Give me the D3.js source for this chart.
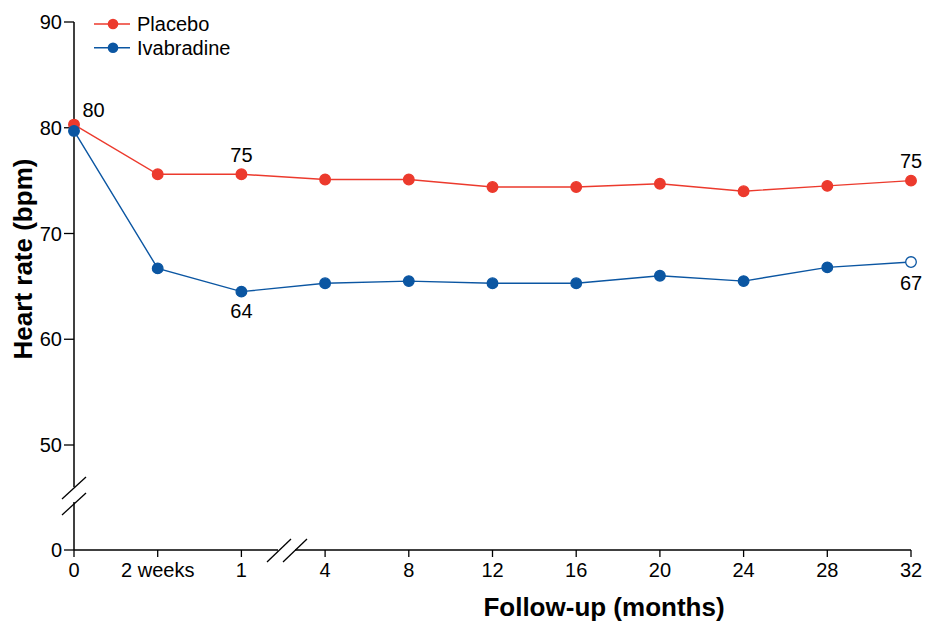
<!DOCTYPE html>
<html>
<head>
<meta charset="utf-8">
<script src="https://cdn.jsdelivr.net/npm/d3@7"></script>
<style>
  body { margin: 0; background: #fff; }
  text { font-family: "Liberation Sans", Arial, sans-serif; fill: #000; }
</style>
</head>
<body>
<script>
var w = 925; // Width of the chart
var h = 622; // Height of the chart

// Data
var categories = ["0", "2 weeks", "1", "4", "8", "12", "16", "20", "24", "28", "32"];
var placebo = [80.3, 75.6, 75.6, 75.1, 75.1, 74.4, 74.4, 74.7, 74.0, 74.5, 75.0];
var ivabradine = [79.7, 66.7, 64.5, 65.3, 65.5, 65.3, 65.3, 66.0, 65.5, 66.8, 67.3];
var yTicks = [0, 50, 60, 70, 80, 90];
// value labels: [series, index, text]
var valueLabels = [
    ["placebo", 0, "80"], ["placebo", 2, "75"], ["placebo", 10, "75"],
    ["ivabradine", 2, "64"], ["ivabradine", 10, "67"]
];

var red = "#ec3a2d";
var blue = "#0b56a2";

var svg = d3.select("body").append("svg")
    .attr("width", w)
    .attr("height", h);

// Scales (y is piecewise: 0 sits just below 50, with a break in between)
var xScale = d3.scalePoint()
    .domain(categories)
    .range([74, 911]);

var yScale = d3.scaleLinear()
    .domain([0, 50, 90])
    .range([550, 445, 22]);

// Y axis line, split for the break
var ax = 74;
svg.append("line").attr("x1", ax).attr("x2", ax).attr("y1", yScale(90)).attr("y2", 487)
    .attr("stroke", "#000").attr("stroke-width", 1.5);
svg.append("line").attr("x1", ax).attr("x2", ax).attr("y1", 502).attr("y2", yScale(0))
    .attr("stroke", "#000").attr("stroke-width", 1.5);
[0, 16].forEach(function(o) {
    svg.append("line")
        .attr("x1", 62).attr("y1", 499 + o).attr("x2", 86).attr("y2", 477 + o)
        .attr("stroke", "#000").attr("stroke-width", 1.3);
});

// Y ticks
var yt = svg.append("g").selectAll("g").data(yTicks).join("g")
    .attr("transform", function(d) { return "translate(0," + yScale(d) + ")"; });
yt.append("line").attr("x1", ax - 10).attr("x2", ax).attr("stroke", "#000").attr("stroke-width", 1.3);
yt.append("text")
    .attr("x", ax - 12).attr("dy", "0.36em")
    .attr("text-anchor", "end")
    .attr("font-size", 20)
    .text(function(d) { return d; });

// X axis line, split for the break
var ay = yScale(0);
svg.append("line").attr("x1", ax).attr("x2", 278).attr("y1", ay).attr("y2", ay)
    .attr("stroke", "#000").attr("stroke-width", 1.5);
svg.append("line").attr("x1", 295).attr("x2", xScale("32")).attr("y1", ay).attr("y2", ay)
    .attr("stroke", "#000").attr("stroke-width", 1.5);
[0, 16].forEach(function(o) {
    svg.append("line")
        .attr("x1", 267 + o).attr("y1", 562).attr("x2", 291 + o).attr("y2", 539)
        .attr("stroke", "#000").attr("stroke-width", 1.3);
});

// X ticks
var xt = svg.append("g").selectAll("g").data(categories).join("g")
    .attr("transform", function(d) { return "translate(" + xScale(d) + "," + ay + ")"; });
xt.append("line").attr("y1", 0).attr("y2", 7).attr("stroke", "#000").attr("stroke-width", 1.3);
xt.append("text")
    .attr("y", 27)
    .attr("text-anchor", "middle")
    .attr("font-size", 20)
    .text(function(d) { return d; });

// Axis titles
svg.append("text")
    .attr("text-anchor", "middle")
    .attr("transform", "translate(32,259) rotate(-90)")
    .attr("font-size", 26)
    .attr("font-weight", "bold")
    .text("Heart rate (bpm)");

svg.append("text")
    .attr("text-anchor", "middle")
    .attr("x", 604).attr("y", 616)
    .attr("font-size", 26)
    .attr("font-weight", "bold")
    .text("Follow-up (months)");

// Lines and markers
var line = d3.line()
    .x(function(d, i) { return xScale(categories[i]); })
    .y(function(d) { return yScale(d); });

function drawSeries(data, color, openLast) {
    svg.append("path")
        .datum(data)
        .attr("d", line)
        .attr("fill", "none")
        .attr("stroke", color)
        .attr("stroke-width", 1.4);
    svg.append("g").selectAll("circle")
        .data(data)
        .join("circle")
        .attr("cx", function(d, i) { return xScale(categories[i]); })
        .attr("cy", function(d) { return yScale(d); })
        .attr("r", 5.3)
        .attr("fill", function(d, i) { return (openLast && i === data.length - 1) ? "#fff" : color; })
        .attr("stroke", color)
        .attr("stroke-width", 1.3);
}
drawSeries(placebo, red, false);
drawSeries(ivabradine, blue, true);

// Value labels
var seriesMap = { placebo: placebo, ivabradine: ivabradine };
svg.append("g").selectAll("text")
    .data(valueLabels)
    .join("text")
    .attr("x", function(d) { return xScale(categories[d[1]]) + (d[1] === 0 ? 19.5 : 0); })
    .attr("y", function(d) {
        var v = seriesMap[d[0]][d[1]];
        if (d[0] === "ivabradine") return yScale(v) + (d[1] === 10 ? 28 : 26);
        return yScale(v) - (d[1] === 0 ? 8 : 12.5);
    })
    .attr("text-anchor", "middle")
    .attr("font-size", 20)
    .text(function(d) { return d[2]; });

// Legend
var legend = [["Placebo", red], ["Ivabradine", blue]];
var lg = svg.append("g").selectAll("g").data(legend).join("g")
    .attr("transform", function(d, i) { return "translate(0," + (24 + i * 23.7) + ")"; });
lg.append("line").attr("x1", 94).attr("x2", 130)
    .attr("stroke", function(d) { return d[1]; }).attr("stroke-width", 1.4);
lg.append("circle").attr("cx", 113).attr("r", 5.3)
    .attr("fill", function(d) { return d[1]; });
lg.append("text").attr("x", 137).attr("dy", "0.36em")
    .attr("font-size", 20)
    .text(function(d) { return d[0]; });
</script>
</body>
</html>
